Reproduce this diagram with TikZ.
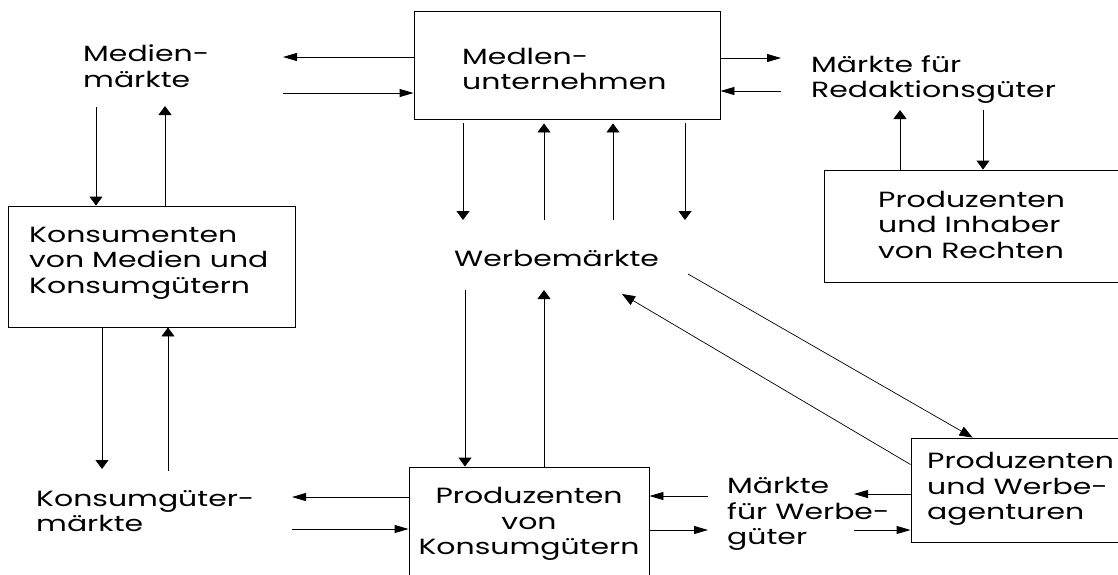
\documentclass[tikz,border=0pt]{standalone}
\usepackage{fontspec}
\setmainfont{Poppins}[FakeStretch=1.36]
\usetikzlibrary{arrows.meta}

\newcommand{\boxfont}{\fontsize{22}{25.5}\selectfont}

\begin{document}
\begin{tikzpicture}[x=1pt,y=-1pt,
  box/.style={rectangle, draw, line width=0.9pt, inner sep=0pt},
  lbl/.style={anchor=west, inner sep=0pt, align=left, font=\boxfont},
  harr/.style={line width=0.9pt, -{Triangle[length=14pt,width=8pt]}},
  varr/.style={line width=0.9pt, -{Triangle[length=9pt,width=13pt]}},
  darr/.style={line width=0.7pt, -{Triangle[length=13pt,width=10pt]}}]

 \useasboundingbox (0,0) rectangle (1118,574);
 \clip (0,0) rectangle (1118,574);

 % boxes
 \node[box, minimum width=306, minimum height=108] (mu) at (567,65) {};
 \node[box, minimum width=287, minimum height=121] (kons) at (151.5,266.5) {};
 \node[box, minimum width=301, minimum height=112] (pir) at (974.5,226) {};
 \node[box, minimum width=222, minimum height=104] (pwa) at (1022,490) {};
 \node[box, minimum width=240, minimum height=110] (pvk) at (529,522) {};

 % box texts
 \node[lbl] (mut) at (462,69) {Medlen-\\unternehmen};
 \node[lbl] (konst) at (29,263) {Konsumenten\\von Medien und\\Konsumgütern};
 \node[lbl] (pirt) at (878,224.5) {Produzenten\\und Inhaber\\von Rechten};
 \node[lbl] (pwat) at (927,489) {Produzenten\\und Werbe-\\agenturen};
 \node[lbl, anchor=center, align=center] (pvkt) at (529,524) {Produzenten\\von\\Konsumgütern};

 % markets
 \node[lbl] (mm) at (83,66) {Medien-\\märkte};
 \node[lbl] (mr) at (811,79.5) {Märkte für\\Redaktionsgüter};
 \node[lbl] (wm) at (454,258) {Werbemärkte};
 \node[lbl] (km) at (36,511) {Konsumgüter-\\märkte};
 \node[lbl] (mw) at (727,514) {Märkte\\für Werbe-\\güter};

 % arrow ends
 \coordinate (a1) at (283,57);
 \coordinate (a2) at (283,93);
 \coordinate (a3) at (96,107);
 \coordinate (a4) at (165,106);
 \coordinate (a5) at (463,220);
 \coordinate (a6) at (544,220);
 \coordinate (a7) at (613,220);
 \coordinate (a8) at (685,220);
 \coordinate (a9) at (781,58);
 \coordinate (a10) at (781,91);
 \coordinate (a11) at (900,110);
 \coordinate (a12) at (983,110);
 \coordinate (a13) at (102,469);
 \coordinate (a14) at (168,471);
 \coordinate (a15) at (292,497);
 \coordinate (a16) at (292,529);
 \coordinate (a17) at (465,290);
 \coordinate (a18) at (544,290);
 \coordinate (a19) at (708,496);
 \coordinate (a20) at (708,530);
 \coordinate (a21) at (854,494);
 \coordinate (a22) at (854,530);
 \coordinate (a23) at (688,274);
 \coordinate (a24) at (622,294);

 % Medienmaerkte
 \draw[harr] (mu.west |- a1) -- (a1);
 \draw[harr] (a2) -- (mu.west |- a2);
 \draw[varr] (a3) -- (kons.north -| a3);
 \draw[varr] (kons.north -| a4) -- (a4);

 % Werbemaerkte - Medienunternehmen
 \draw[varr, shorten <=4pt] (mu.south -| a5) -- (a5);
 \draw[varr, shorten >=4pt] (a6) -- (mu.south -| a6);
 \draw[varr, shorten >=4pt] (a7) -- (mu.south -| a7);
 \draw[varr, shorten <=4pt] (mu.south -| a8) -- (a8);

 % Redaktionsgueter
 \draw[harr] (mu.east |- a9) -- (a9);
 \draw[harr] (a10) -- (mu.east |- a10);
 \draw[varr] (pir.north -| a11) -- (a11);
 \draw[varr] (a12) -- (pir.north -| a12);

 % Konsumgueter
 \draw[varr] (kons.south -| a13) -- (a13);
 \draw[varr] (a14) -- (kons.south -| a14);
 \draw[harr] (pvk.west |- a15) -- (a15);
 \draw[harr] (a16) -- (pvk.west |- a16);
 \draw[varr] (a17) -- (pvk.north -| a17);
 \draw[varr] (pvk.north -| a18) -- (a18);

 % Werbegueter
 \draw[harr] (a19) -- (pvk.east |- a19);
 \draw[harr] (pvk.east |- a20) -- (a20);
 \draw[harr] (pwa.west |- a21) -- (a21);
 \draw[harr] (a22) -- (pwa.west |- a22);

 % diagonals
 \draw[darr] (a23) -- ([xshift=62pt]pwa.north west);
 \draw[darr] ([yshift=-27pt]pwa.north west) -- (a24);

\end{tikzpicture}
\end{document}
